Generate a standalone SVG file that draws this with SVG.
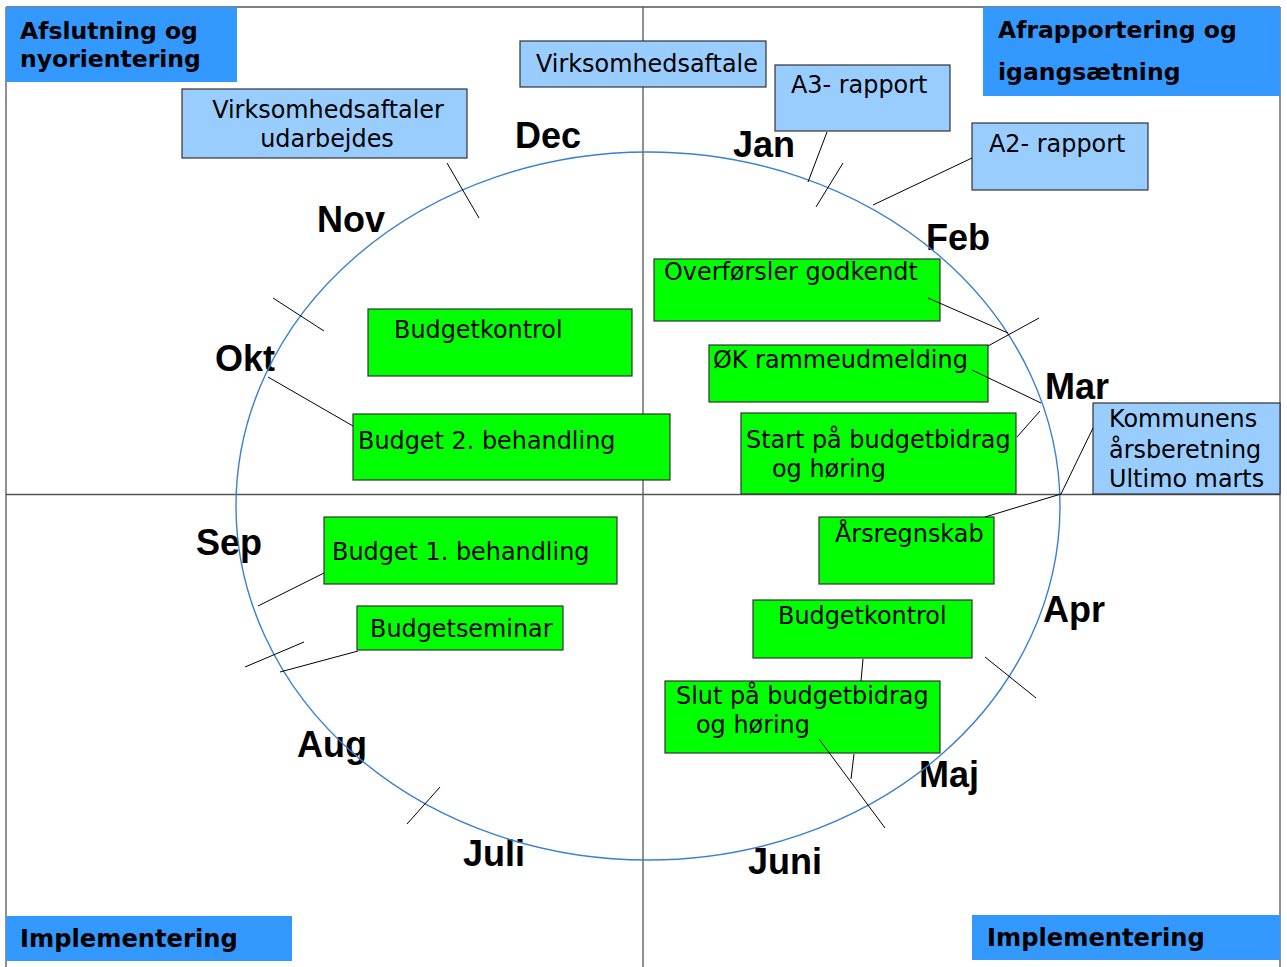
<svg xmlns="http://www.w3.org/2000/svg" width="1287" height="967" viewBox="0 0 1287 967">
<style>
.frame{stroke:#555;stroke-width:1.3;fill:none}
.quad{fill:#3399ff}
.qt{font-family:"DejaVu Sans",Verdana,sans-serif;font-weight:bold;font-size:23.5px;fill:#000}
.qi{font-size:24.2px}
.lb{fill:#99ccff;stroke:#333;stroke-width:1.2}
.gb{fill:#00ff00;stroke:#333;stroke-width:1.2}
.t{font-family:"DejaVu Sans",Verdana,sans-serif;font-size:23.9px;fill:#000}
.m{font-family:"Liberation Sans",Arial,sans-serif;font-weight:bold;font-size:36px;fill:#000}
.c{stroke:#000;stroke-width:1;fill:none}
</style>
<rect width="1287" height="967" fill="#fff"/>
<g id="frame">
<line class="frame" x1="6" y1="7" x2="1280" y2="7"/>
<line class="frame" x1="6" y1="7" x2="6" y2="967"/>
<line class="frame" x1="1280" y1="7" x2="1280" y2="967"/>
<line class="frame" x1="643" y1="7" x2="643" y2="967"/>
<line class="frame" x1="6" y1="494.5" x2="1280" y2="494.5"/>
</g>
<g id="months">
<text class="m" x="515" y="148">Dec</text>
<text class="m" x="733" y="157">Jan</text>
<text class="m" x="926" y="250">Feb</text>
<text class="m" x="1045" y="399">Mar</text>
<text class="m" x="1043" y="622">Apr</text>
<text class="m" x="919" y="787">Maj</text>
<text class="m" x="748" y="874">Juni</text>
<text class="m" x="463" y="866">Juli</text>
<text class="m" x="297" y="757">Aug</text>
<text class="m" x="196" y="555">Sep</text>
<text class="m" x="215" y="371">Okt</text>
<text class="m" x="317" y="232">Nov</text>
</g>
<g id="wheel">
<ellipse cx="648" cy="506" rx="412" ry="354" fill="none" stroke="#3a80d0" stroke-width="1.4"/>
</g>
<g id="q-afslutning">
<rect class="quad" x="6" y="7" width="231" height="75"/>
<text class="qt" x="20" y="39">Afslutning og</text>
<text class="qt" x="20" y="67">nyorientering</text>
</g>
<g id="q-afrapportering">
<rect class="quad" x="983" y="7" width="297" height="89"/>
<text class="qt" x="998" y="38">Afrapportering og</text>
<text class="qt" x="998" y="80">igangsætning</text>
</g>
<g id="q-implementering-left">
<rect class="quad" x="6" y="916" width="286" height="45"/>
<text class="qt qi" x="20" y="947">Implementering</text>
</g>
<g id="q-implementering-right">
<rect class="quad" x="972" y="915" width="308" height="45"/>
<text class="qt qi" x="987" y="946">Implementering</text>
</g>
<g id="virksomhedsaftaler-udarbejdes">
<rect class="lb" x="182" y="89" width="285" height="69"/>
<text class="t" x="328" y="118" text-anchor="middle">Virksomhedsaftaler</text>
<text class="t" x="327" y="147" text-anchor="middle">udarbejdes</text>
</g>
<g id="virksomhedsaftale">
<rect class="lb" x="520" y="41" width="246" height="46"/>
<text class="t" x="536" y="72">Virksomhedsaftale</text>
</g>
<g id="a3-rapport">
<rect class="lb" x="775" y="65" width="175" height="66"/>
<text class="t" x="791" y="93">A3- rapport</text>
</g>
<g id="a2-rapport">
<rect class="lb" x="972" y="123" width="176" height="67"/>
<text class="t" x="989" y="152">A2- rapport</text>
</g>
<g id="kommunens-aarsberetning">
<rect class="lb" x="1093" y="403" width="187" height="91"/>
<text class="t" x="1109" y="427">Kommunens</text>
<text class="t" x="1109" y="458">årsberetning</text>
<text class="t" x="1109" y="487">Ultimo marts</text>
</g>
<g id="budgetkontrol-okt">
<rect class="gb" x="368" y="309" width="264" height="67"/>
<text class="t" x="394" y="338">Budgetkontrol</text>
</g>
<g id="budget-2-behandling">
<rect class="gb" x="353" y="414" width="317" height="66"/>
<text class="t" x="358" y="449">Budget 2. behandling</text>
</g>
<g id="overfoersler-godkendt">
<rect class="gb" x="654" y="259" width="286" height="62"/>
<text class="t" x="664" y="280">Overførsler godkendt</text>
</g>
<g id="oek-rammeudmelding">
<rect class="gb" x="709" y="345" width="279" height="57"/>
<text class="t" x="713" y="368">ØK rammeudmelding</text>
</g>
<g id="start-paa-budgetbidrag">
<rect class="gb" x="741" y="413" width="275" height="81"/>
<text class="t" x="746" y="448">Start på budgetbidrag</text>
<text class="t" x="772" y="477">og høring</text>
</g>
<g id="aarsregnskab">
<rect class="gb" x="819" y="517" width="175" height="67"/>
<text class="t" x="835" y="542">Årsregnskab</text>
</g>
<g id="budgetkontrol-apr">
<rect class="gb" x="753" y="600" width="219" height="58"/>
<text class="t" x="778" y="624">Budgetkontrol</text>
</g>
<g id="slut-paa-budgetbidrag">
<rect class="gb" x="665" y="681" width="275" height="72"/>
<text class="t" x="676" y="704">Slut på budgetbidrag</text>
<text class="t" x="696" y="733">og høring</text>
</g>
<g id="budget-1-behandling">
<rect class="gb" x="324" y="517" width="293" height="67"/>
<text class="t" x="332" y="560">Budget 1. behandling</text>
</g>
<g id="budgetseminar">
<rect class="gb" x="357" y="606" width="206" height="44"/>
<text class="t" x="370" y="637">Budgetseminar</text>
</g>
<g id="connectors">
<line class="c" x1="447" y1="163" x2="479" y2="218"/>
<line class="c" x1="843" y1="163" x2="816" y2="207"/>
<line class="c" x1="827" y1="132" x2="808" y2="182"/>
<line class="c" x1="972" y1="158" x2="873" y2="205"/>
<line class="c" x1="1039" y1="318" x2="988" y2="346"/>
<line class="c" x1="928" y1="298" x2="1008" y2="333"/>
<line class="c" x1="972" y1="370" x2="1041" y2="403"/>
<line class="c" x1="1017" y1="437" x2="1040" y2="411"/>
<line class="c" x1="1093" y1="428" x2="1061" y2="494"/>
<line class="c" x1="1061" y1="494" x2="985" y2="517"/>
<line class="c" x1="985" y1="657" x2="1036" y2="698"/>
<line class="c" x1="863" y1="659" x2="861" y2="681"/>
<line class="c" x1="854" y1="754" x2="851" y2="779"/>
<line class="c" x1="819" y1="739" x2="885" y2="828"/>
<line class="c" x1="440" y1="787" x2="407" y2="824"/>
<line class="c" x1="358" y1="651" x2="280" y2="672"/>
<line class="c" x1="304" y1="642" x2="245" y2="667"/>
<line class="c" x1="324" y1="573" x2="258" y2="606"/>
<line class="c" x1="273" y1="298" x2="324" y2="331"/>
<line class="c" x1="268" y1="377" x2="353" y2="426"/>
</g>
</svg>
